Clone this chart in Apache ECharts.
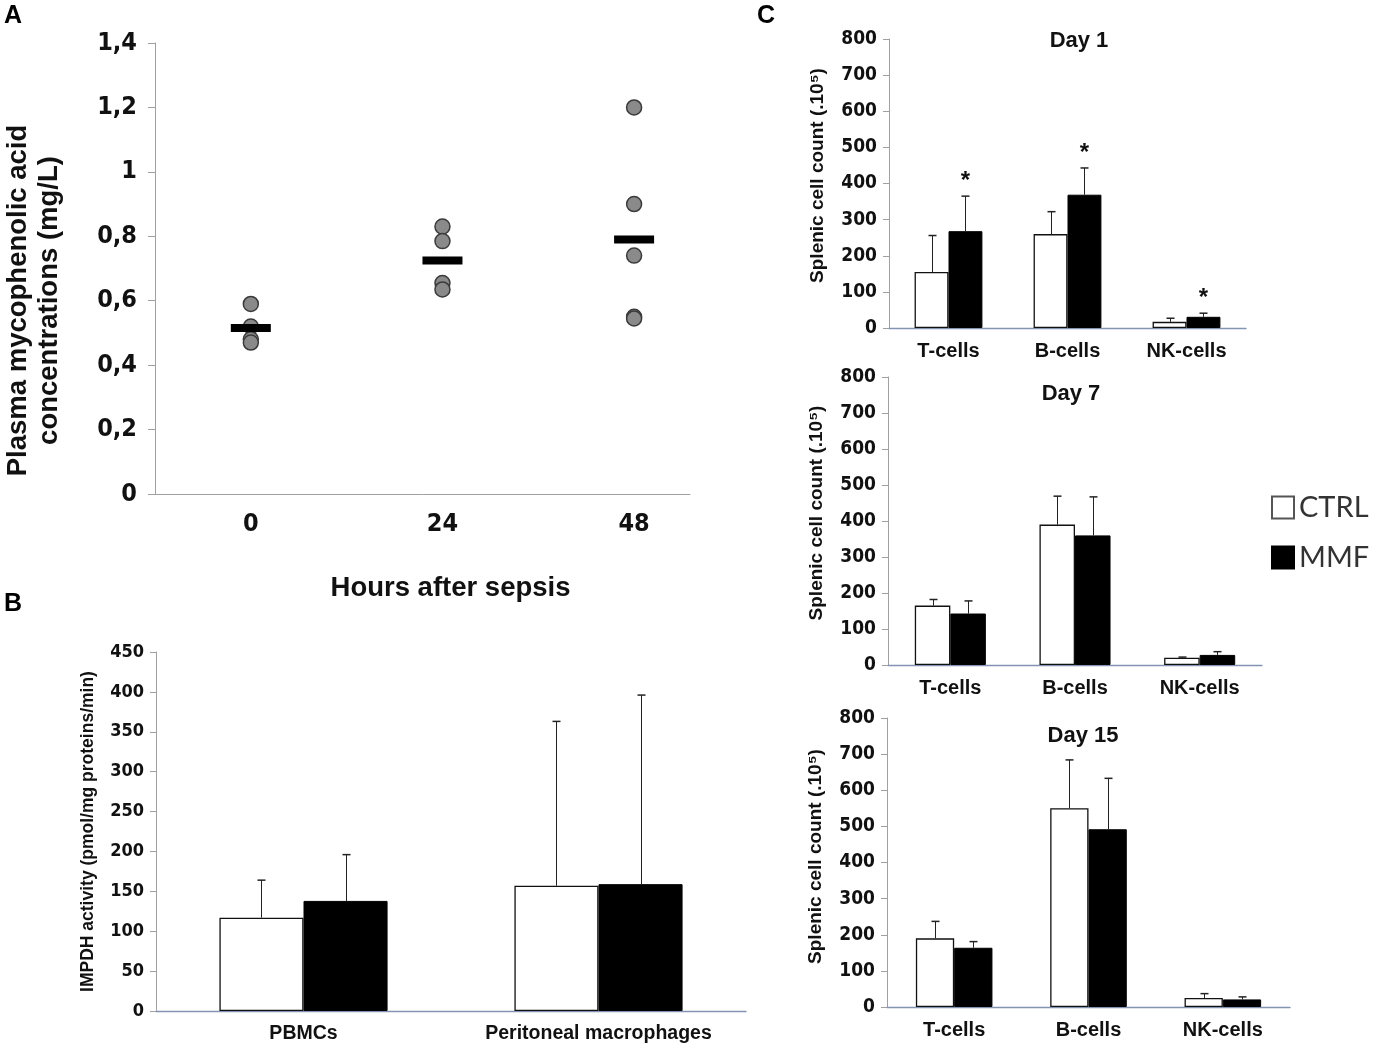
<!DOCTYPE html>
<html>
<head>
<meta charset="utf-8">
<title>MPA / IMPDH / splenic cells</title>
<script src="https://cdn.jsdelivr.net/npm/echarts@6/dist/echarts.min.js"></script>
<style>
    html, body { margin: 0; padding: 0; background: #fff; }
    #main { width: 1378px; height: 1046px; }
</style>
</head>
<body>
<div id="main"></div>
<script>
    // ---- data ----
    // A: plasma MPA, mg/L
    var hours = [0, 24, 48];
    var mpaH0 = [0.59, 0.52, 0.48, 0.47];
    var mpaH24 = [0.83, 0.785, 0.655, 0.635];
    var mpaH48 = [1.2, 0.9, 0.74, 0.55, 0.545];
    var mpaMean = [0.515, 0.725, 0.79];

    // B: IMPDH activity
    var impdhCats = ['PBMCs', 'Peritoneal macrophages'];
    var impdhCtrl = [117, 157];
    var impdhCtrlSd = [47, 206];
    var impdhMmf = [138, 159];
    var impdhMmfSd = [58, 237];

    // C: splenic cell count (.10^5)
    var cellCats = ['T-cells', 'B-cells', 'NK-cells'];
    var day1Ctrl = [155, 260, 17];
    var day1CtrlSd = [101, 62, 10];
    var day1Mmf = [268, 369, 31];
    var day1MmfSd = [97, 74, 10];
    var day1Stars = ['*', '*', '*'];
    var day7Ctrl = [165, 390, 20];
    var day7CtrlSd = [17, 79, 2];
    var day7Mmf = [143, 360, 28];
    var day7MmfSd = [35, 107, 9];
    var day15Ctrl = [190, 550, 25];
    var day15CtrlSd = [47, 134, 12];
    var day15Mmf = [164, 492, 21];
    var day15MmfSd = [17, 141, 7];

    var narrow = "'Liberation Sans Narrow', 'DejaVu Sans Condensed', 'Liberation Sans', sans-serif";
    var arial = "'Liberation Sans', Arial, sans-serif";
    var barGapPct = 0.43;       // barCategoryGap
    var half = (1 - barGapPct) / 4;  // offset of each bar centre from category centre

    var myChart = echarts.init(document.getElementById('main'));

    function pts(x, arr) {
        return arr.map(function (v) { return [x, v]; });
    }

    // error bar (one-sided, upward) drawn over a grouped bar
    function errSeries(idx, vals, sds, side, stars) {
        return {
            type: 'custom',
            name: 'err' + idx + side,
            xAxisIndex: idx,
            yAxisIndex: idx,
            z: 3,
            silent: true,
            data: vals.map(function (v, i) { return [i, v, v + sds[i]]; }),
            renderItem: function (params, api) {
                var band = api.size([1, 0])[0];
                var base = api.coord([api.value(0), api.value(1)]);
                var top = api.coord([api.value(0), api.value(2)]);
                var x = Math.round(base[0] + side * band * half) + 0.5;
                var kids = [
                    {type: 'line', shape: {x1: x, y1: base[1], x2: x, y2: top[1]}, style: {stroke: '#222', lineWidth: 1}},
                    {type: 'line', shape: {x1: x - 4, y1: top[1], x2: x + 4, y2: top[1]}, style: {stroke: '#222', lineWidth: 1.5}}
                ];
                var s = stars ? stars[params.dataIndex] : '';
                if (s) {
                    kids.push({type: 'text', x: x, y: top[1] - 3, style: {
                        text: s, fill: '#111', fontSize: 24, fontWeight: 'bold', fontFamily: arial,
                        align: 'center', verticalAlign: 'bottom'
                    }});
                }
                return {type: 'group', children: kids};
            }
        };
    }

    function barPair(idx, ctrl, mmf) {
        return [
            {
                name: 'CTRL', type: 'bar', xAxisIndex: idx, yAxisIndex: idx,
                barGap: '0%', barCategoryGap: (barGapPct * 100) + '%',
                itemStyle: {color: '#fff', borderColor: '#111', borderWidth: 1.3},
                data: ctrl
            },
            {
                name: 'MMF', type: 'bar', xAxisIndex: idx, yAxisIndex: idx,
                barGap: '0%', barCategoryGap: (barGapPct * 100) + '%',
                itemStyle: {color: '#000', borderColor: '#000', borderWidth: 1},
                data: mmf
            }
        ];
    }

    function catAxis(idx, cats, size) {
        return {
            type: 'category', gridIndex: idx, data: cats,
            axisLine: {lineStyle: {color: '#8393b3', width: 1.3}},
            axisTick: {show: false},
            axisLabel: {color: '#111', fontWeight: 'bold', fontFamily: arial, fontSize: size, margin: 13},
            splitLine: {show: false}
        };
    }

    function valAxis(idx, max, step, size, name, nameSize, gap, shift) {
        return {
            type: 'value', gridIndex: idx, min: 0, max: max, interval: step,
            axisLine: {show: true, lineStyle: {color: '#a0a0a0'}},
            axisTick: {show: true, inside: false, length: 6, lineStyle: {color: '#a0a0a0'}},
            axisLabel: {color: '#111', fontWeight: 'bold', fontFamily: narrow, fontSize: size, margin: 12},
            splitLine: {show: false},
            name: name, nameLocation: 'middle', nameRotate: 90, nameGap: gap,
            nameTextStyle: {color: '#111', fontWeight: 'bold', fontFamily: arial, fontSize: nameSize,
                padding: [0, 0, 0, shift]}
        };
    }

    var option = {
        backgroundColor: '#fff',
        animation: false,
        grid: [
            {left: 155, top: 43, width: 535, height: 451},
            {left: 156, top: 652, width: 590, height: 359},
            {left: 889, top: 39, width: 357, height: 289},
            {left: 888, top: 377, width: 374, height: 288},
            {left: 887, top: 718, width: 403, height: 289}
        ],
        legend: {
            data: [
                {name: 'CTRL', itemStyle: {color: '#fff', borderColor: '#555', borderWidth: 2}},
                {name: 'MMF', itemStyle: {color: '#000', borderColor: '#000'}}
            ],
            orient: 'vertical', left: 1266, top: 488,
            icon: 'rect', itemWidth: 22, itemHeight: 22, itemGap: 21,
            selectedMode: false,
            textStyle: {color: '#333', fontSize: 29, fontFamily: "Lato, 'Open Sans', sans-serif"}
        },
        graphic: [
            {type: 'text', x: 4, y: 4, style: {text: 'A', fontSize: 25, fontWeight: 'bold', fontFamily: arial, fill: '#000'}},
            {type: 'text', x: 4, y: 592, style: {text: 'B', fontSize: 25, fontWeight: 'bold', fontFamily: arial, fill: '#000'}},
            {type: 'text', x: 757, y: 4, style: {text: 'C', fontSize: 25, fontWeight: 'bold', fontFamily: arial, fill: '#000'}},
            {type: 'text', x: 1079, y: 41, style: {text: 'Day 1', fontSize: 22, fontWeight: 'bold', fontFamily: arial, fill: '#111', align: 'center', verticalAlign: 'middle'}},
            {type: 'text', x: 1071, y: 394, style: {text: 'Day 7', fontSize: 22, fontWeight: 'bold', fontFamily: arial, fill: '#111', align: 'center', verticalAlign: 'middle'}},
            {type: 'text', x: 1083, y: 736, style: {text: 'Day 15', fontSize: 22, fontWeight: 'bold', fontFamily: arial, fill: '#111', align: 'center', verticalAlign: 'middle'}}
        ],
        xAxis: [
            {
                type: 'value', gridIndex: 0, min: -12, max: 55, interval: 12,
                axisLine: {show: true, onZero: false, lineStyle: {color: '#a0a0a0'}},
                axisTick: {show: false},
                splitLine: {show: false},
                axisLabel: {
                    color: '#111', fontWeight: 'bold', fontFamily: narrow, fontSize: 25, margin: 18,
                    showMinLabel: true, showMaxLabel: false,
                    formatter: function (v) { return hours.indexOf(v) >= 0 ? String(v) : ''; }
                },
                name: 'Hours after sepsis', nameLocation: 'middle', nameGap: 80,
                nameTextStyle: {color: '#111', fontWeight: 'bold', fontFamily: arial, fontSize: 27.5, padding: [0, 0, 0, 56]}
            },
            catAxis(1, impdhCats, 19.5),
            catAxis(2, cellCats, 20),
            catAxis(3, cellCats, 20),
            catAxis(4, cellCats, 20)
        ],
        yAxis: [
            {
                type: 'value', gridIndex: 0, min: 0, max: 1.4, interval: 0.2,
                axisLine: {show: true, onZero: false, lineStyle: {color: '#a0a0a0'}},
                axisTick: {show: true, length: 7, lineStyle: {color: '#a0a0a0'}},
                splitLine: {show: false},
                axisLabel: {
                    color: '#111', fontWeight: 'bold', fontFamily: narrow, fontSize: 25, margin: 18,
                    formatter: function (v) { return String(+v.toFixed(1)).replace('.', ','); }
                },
                name: 'Plasma mycophenolic acid\nconcentrations (mg/L)', nameLocation: 'middle', nameRotate: 90, nameGap: 90,
                nameTextStyle: {color: '#111', fontWeight: 'bold', fontFamily: arial, fontSize: 27.5, lineHeight: 31,
                    padding: [0, 64, 0, 0]}
            },
            valAxis(1, 450, 50, 18, 'IMPDH activity (pmol/mg proteins/min)', 17.5, 59, 0),
            valAxis(2, 800, 100, 19, 'Splenic cell count (.10\u2075)', 19, 62, 16),
            valAxis(3, 800, 100, 19, 'Splenic cell count (.10\u2075)', 19, 62, 16),
            valAxis(4, 800, 100, 19, 'Splenic cell count (.10\u2075)', 19, 62, 12)
        ],
        series: [
            {
                name: 'MPA', type: 'scatter', xAxisIndex: 0, yAxisIndex: 0,
                symbolSize: 15,
                itemStyle: {color: '#8a8a8a', borderColor: '#3a3a3a', borderWidth: 1.5, opacity: 1},
                data: pts(hours[0], mpaH0).concat(pts(hours[1], mpaH24), pts(hours[2], mpaH48))
            },
            {
                name: 'Mean', type: 'scatter', xAxisIndex: 0, yAxisIndex: 0,
                symbol: 'rect', symbolSize: [40, 8], z: 4,
                itemStyle: {color: '#000', opacity: 1},
                data: hours.map(function (h, i) { return [h, mpaMean[i]]; })
            }
        ]
            .concat(barPair(1, impdhCtrl, impdhMmf))
            .concat([errSeries(1, impdhCtrl, impdhCtrlSd, -1), errSeries(1, impdhMmf, impdhMmfSd, 1)])
            .concat(barPair(2, day1Ctrl, day1Mmf))
            .concat([errSeries(2, day1Ctrl, day1CtrlSd, -1), errSeries(2, day1Mmf, day1MmfSd, 1, day1Stars)])
            .concat(barPair(3, day7Ctrl, day7Mmf))
            .concat([errSeries(3, day7Ctrl, day7CtrlSd, -1), errSeries(3, day7Mmf, day7MmfSd, 1)])
            .concat(barPair(4, day15Ctrl, day15Mmf))
            .concat([errSeries(4, day15Ctrl, day15CtrlSd, -1), errSeries(4, day15Mmf, day15MmfSd, 1)])
    };

    myChart.setOption(option);
</script>
</body>
</html>
